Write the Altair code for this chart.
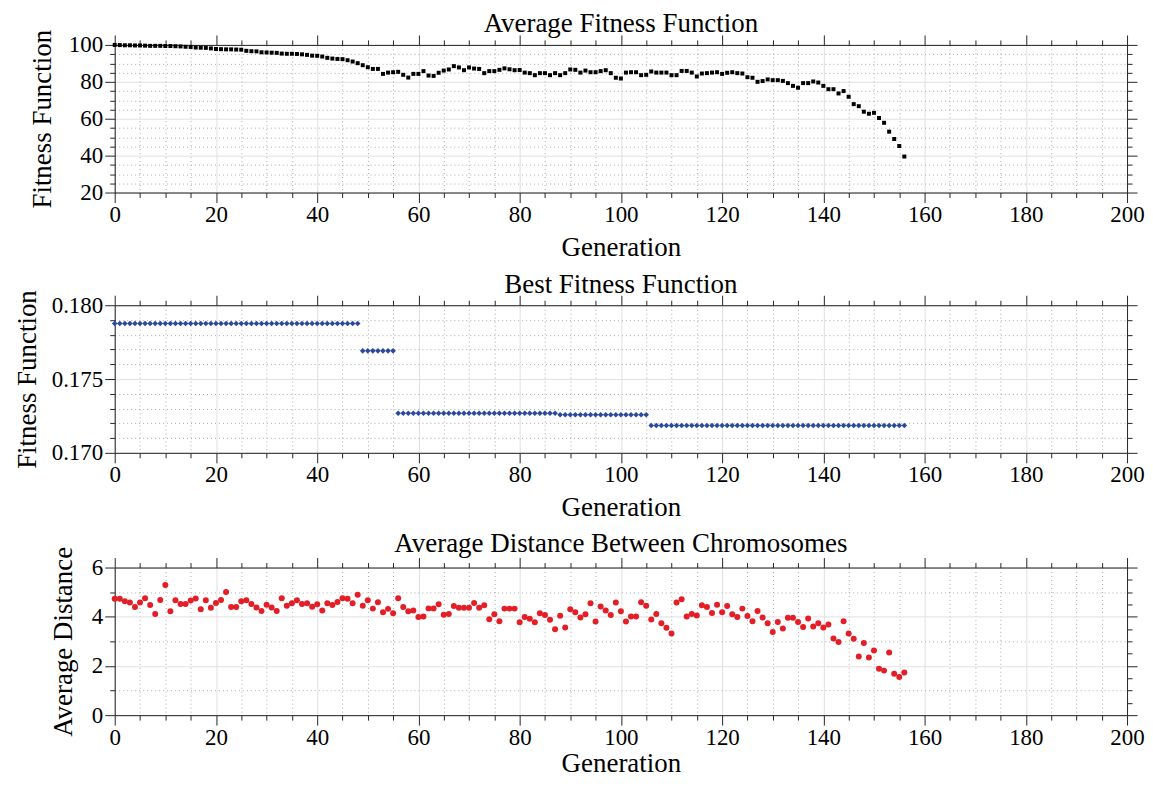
import altair as alt
import pandas as pd

generation = list(range(157))

avg_fitness = [
    100.0, 99.9, 99.8, 99.8, 99.7, 99.7, 99.6, 99.5, 99.5, 99.5,
    99.4, 99.4, 99.3, 99.2, 99.0, 98.9, 98.6, 98.5, 98.4, 98.1,
    97.8, 97.7, 97.6, 97.6, 97.5, 97.4, 96.8, 96.6, 96.5, 96.0,
    95.9, 95.8, 95.7, 95.3, 95.2, 95.2, 95.1, 94.9, 94.6, 94.2,
    94.1, 93.7, 93.0, 92.6, 92.4, 92.3, 91.7, 91.0, 90.1, 89.0,
    87.9, 87.0, 87.0, 84.3, 85.0, 85.2, 85.4, 83.8, 82.3, 84.3,
    84.3, 85.8, 83.4, 83.2, 84.9, 86.1, 86.7, 88.5, 87.8, 86.3,
    87.8, 87.2, 87.0, 84.7, 85.8, 85.8, 86.5, 87.3, 86.8, 86.3,
    86.4, 85.0, 84.7, 83.6, 84.7, 84.7, 83.6, 84.7, 83.6, 84.7,
    86.7, 86.5, 85.0, 86.1, 85.2, 85.2, 85.8, 86.3, 84.7, 82.2,
    81.8, 85.0, 85.2, 85.2, 83.6, 83.8, 85.6, 85.0, 85.0, 85.0,
    83.6, 83.6, 85.9, 85.9, 85.0, 82.9, 84.5, 84.7, 85.0, 85.2,
    84.3, 84.9, 85.2, 84.7, 84.5, 82.5, 82.2, 80.0, 80.4, 81.3,
    80.9, 80.9, 80.5, 79.3, 77.8, 76.8, 79.3, 79.3, 80.2, 79.6,
    77.8, 76.0, 76.0, 73.7, 75.0, 71.9, 67.9, 66.8, 63.8, 62.7,
    63.2, 60.4, 57.8, 53.0, 49.0, 45.2, 39.5,
]

# best fitness is a step series: level values and how many generations each lasts
best_levels = [0.17876, 0.17691, 0.17268, 0.17258, 0.17185]
best_counts = [49, 7, 32, 18, 51]
best_fitness = []
for lv, n in zip(best_levels, best_counts):
    best_fitness += [lv] * n

avg_distance = [
    4.73, 4.73, 4.63, 4.58, 4.40, 4.58, 4.75, 4.48, 4.11, 4.68,
    5.29, 4.22, 4.67, 4.52, 4.52, 4.66, 4.74, 4.30, 4.67, 4.37,
    4.56, 4.68, 5.01, 4.40, 4.40, 4.63, 4.67, 4.52, 4.38, 4.23,
    4.49, 4.38, 4.23, 4.75, 4.45, 4.55, 4.67, 4.52, 4.55, 4.41,
    4.51, 4.25, 4.55, 4.48, 4.60, 4.75, 4.73, 4.55, 4.89, 4.45,
    4.67, 4.33, 4.59, 4.18, 4.32, 4.14, 4.75, 4.40, 4.22, 4.25,
    3.99, 4.01, 4.34, 4.34, 4.51, 4.08, 4.11, 4.44, 4.37, 4.37,
    4.37, 4.56, 4.37, 4.47, 3.90, 4.10, 3.82, 4.33, 4.33, 4.33,
    3.78, 3.99, 3.92, 3.78, 4.14, 4.07, 3.88, 3.49, 4.04, 3.56,
    4.30, 4.18, 3.97, 4.10, 4.55, 3.81, 4.42, 4.25, 4.07, 4.58,
    4.22, 3.81, 4.01, 4.01, 4.59, 4.45, 3.89, 4.11, 3.74, 3.55,
    3.32, 4.58, 4.71, 4.01, 4.11, 4.05, 4.47, 4.40, 4.15, 4.49,
    4.18, 4.44, 4.10, 3.99, 4.33, 4.03, 3.82, 4.23, 3.97, 3.74,
    3.38, 3.79, 3.52, 3.96, 3.96, 3.79, 3.58, 3.93, 3.60, 3.74,
    3.56, 3.68, 3.12, 2.97, 3.82, 3.32, 3.11, 2.38, 2.93, 2.34,
    2.63, 1.89, 1.81, 2.55, 1.68, 1.55, 1.73,
]

x_ticks = list(range(0, 201, 5))
y1_ticks = list(range(20, 101, 5))
y2_ticks = [round(0.170 + 0.001 * i, 3) for i in range(11)]
y3_ticks = [i * 0.5 for i in range(13)]

df = pd.DataFrame({
    "Generation": generation,
    "avg": avg_fitness,
    "best": best_fitness,
    "dist": avg_distance,
})

FONT = "Liberation Serif"
AXC = "#262626"
W, H = 1015, 148
LBL = 23
TTL = 27


def cond(test, major, minor):
    return {"condition": {"test": test, "value": major}, "value": minor}


def make_axis(values, test, orient, title=None, labels=True, grid=False,
              fmt=None, title_pad=6, label_pad=2):
    kw = dict(
        values=values, orient=orient, labels=labels,
        tickSize=cond(test, 10, 5), tickColor=AXC, tickWidth=1,
        domainColor=AXC, domainWidth=1,
        grid=grid, labelOverlap=False, labelFlush=False,
        labelFont=FONT, labelFontSize=LBL, labelColor="black",
        labelPadding=label_pad,
        titleFont=FONT, titleFontSize=TTL, titleFontWeight="normal",
        titleColor="black", titlePadding=title_pad,
    )
    kw["title"] = title if title is not None else ""
    if grid:
        kw["gridColor"] = cond(test, "#e0e0e0", "#ababab")
        kw["gridDash"] = cond(test, [], [1, 3])
        kw["gridWidth"] = 1
    if labels:
        if fmt:
            kw["format"] = fmt
        kw["labelExpr"] = f"({test}) ? datum.label : ''"
    return alt.Axis(**kw)


def panel(field, color, shape, size, ydomain, yticks, ytest, yfmt, title,
          ytitle, ytitle_pad, xtitle_pad, title_offset):
    xtest = "datum.value % 20 === 0"
    xscale = alt.Scale(domain=[0, 200], nice=False, zero=False)
    yscale = alt.Scale(domain=ydomain, nice=False, zero=False)
    base = alt.Chart(df)
    pts = base.mark_point(filled=True, shape=shape, size=size, color=color,
                          opacity=1, strokeWidth=0).encode(
        x=alt.X("Generation:Q", scale=xscale,
                axis=make_axis(x_ticks, xtest, "bottom", title="Generation",
                               grid=True, title_pad=xtitle_pad, label_pad=1)),
        y=alt.Y(f"{field}:Q", scale=yscale,
                axis=make_axis(yticks, ytest, "left", title=ytitle, grid=True,
                               fmt=yfmt, title_pad=ytitle_pad)),
    )
    frame = base.mark_point(opacity=0).encode(
        x=alt.X("Generation:Q", scale=xscale,
                axis=make_axis(x_ticks, xtest, "top", labels=False)),
        y=alt.Y(f"{field}:Q", scale=yscale,
                axis=make_axis(yticks, ytest, "right", labels=False)),
    )
    return alt.layer(pts, frame).resolve_axis(
        x="independent", y="independent"
    ).properties(
        width=W, height=H,
        title=alt.Title(title, frame="group", font=FONT, fontSize=TTL,
                        fontWeight="normal", color="black",
                        offset=title_offset),
    )


p1 = panel("avg", "black", "square", 16, [20, 100], y1_ticks,
           "datum.value % 20 === 0", "d", "Average Fitness Function",
           "Fitness Function", 12, 8, -9)
p2 = panel("best", "#2b4a9e", "diamond", 32, [0.170, 0.180], y2_ticks,
           "round(datum.value * 1000) % 5 === 0", ".3f",
           "Best Fitness Function", "Fitness Function", 10, 8, -9)
p3 = panel("dist", "#e41e26", "circle", 36, [0, 6], y3_ticks,
           "datum.value % 2 === 0", "d",
           "Average Distance Between Chromosomes", "Average Distance", 14, 1,
           -12)

chart = alt.vconcat(p1, p2, p3, spacing=8).properties(
    padding={"left": 4, "top": 0, "right": 0, "bottom": 0}
).configure_view(strokeWidth=0).configure(background="white")

chart.save("out.html", embed_options={"renderer": "svg", "actions": False})
